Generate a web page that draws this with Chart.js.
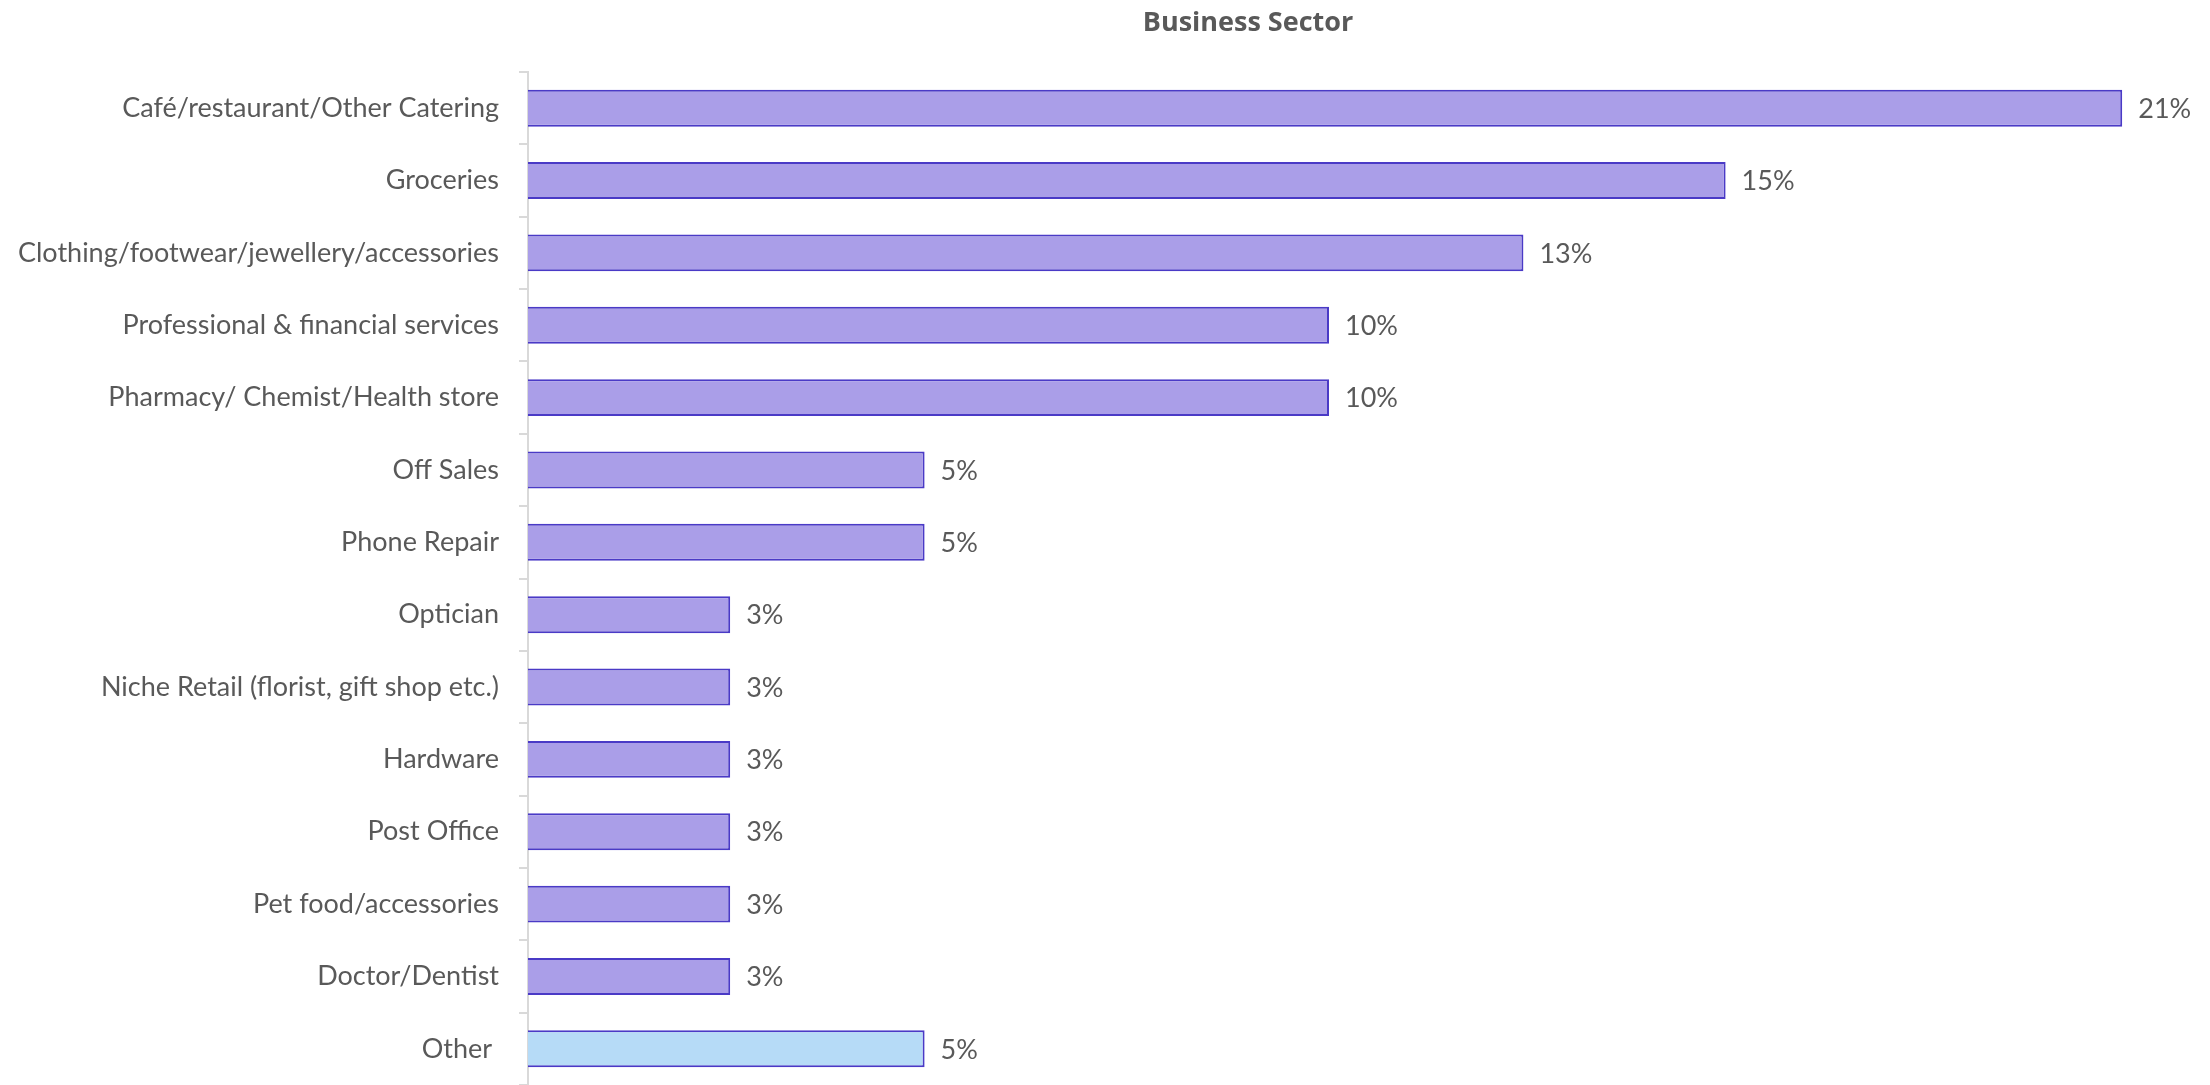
<!DOCTYPE html>
<html>
<head>
<meta charset="utf-8">
<script src="https://cdn.jsdelivr.net/npm/chart.js@4/dist/chart.umd.min.js"></script>
<style>
  html, body { margin: 0; padding: 0; background: #fff; }
  #sectorChart { display: block; }
</style>
</head>
<body>
<canvas id="sectorChart" width="2210" height="1085"></canvas>
<script>
const sectors = [
    'Café/restaurant/Other Catering',
    'Groceries',
    'Clothing/footwear/jewellery/accessories',
    'Professional & financial services',
    'Pharmacy/ Chemist/Health store',
    'Off Sales',
    'Phone Repair',
    'Optician',
    'Niche Retail (florist, gift shop etc.)',
    'Hardware',
    'Post Office',
    'Pet food/accessories',
    'Doctor/Dentist',
    'Other '
];

// share of respondents, %
const shares = [20.5, 15.4, 12.8, 10.3, 10.3, 5.1, 5.1, 2.6, 2.6, 2.6, 2.6, 2.6, 2.6, 5.1];

const TEXT_COLOR = '#595959';
const FONT = 'Lato, "Open Sans", sans-serif';

const barFill = sectors.map(s => s.trim() === 'Other' ? '#B6DBF7' : '#AA9EE8');

// chart heading, drawn over the plot
const headingPlugin = {
    id: 'heading',
    afterDraw(chart) {
        const c = chart.ctx;
        c.save();
        c.font = 'bold 27px "Open Sans", sans-serif';
        c.fillStyle = TEXT_COLOR;
        c.textAlign = 'center';
        c.textBaseline = 'alphabetic';
        c.fillText('Business Sector', 1248, 31);
        c.restore();
    }
};

// percentage labels at the end of each bar
const valueLabels = {
    id: 'valueLabels',
    afterDatasetsDraw(chart) {
        const c = chart.ctx;
        const meta = chart.getDatasetMeta(0);
        c.save();
        c.font = '27px ' + FONT;
        c.fillStyle = TEXT_COLOR;
        c.textAlign = 'left';
        c.textBaseline = 'middle';
        meta.data.forEach((bar, i) => {
            c.fillText(Math.round(shares[i]) + '%', bar.x + 16, bar.y + 1);
        });
        c.restore();
    }
};

new Chart(document.getElementById('sectorChart'), {
    type: 'bar',
    data: {
        labels: sectors,
        datasets: [{
            data: shares,
            backgroundColor: barFill,
            borderColor: '#4A3AC6',
            borderWidth: 2,
            barPercentage: 0.51,
            categoryPercentage: 1
        }]
    },
    options: {
        indexAxis: 'y',
        responsive: false,
        animation: false,
        layout: {
            padding: { top: 72, right: 10, bottom: 0, left: 0 }
        },
        scales: {
            x: {
                display: false,
                min: 0,
                max: 21.5
            },
            y: {
                afterFit(scale) {
                    scale.width = 528;
                    scale.paddingTop = 0;
                    scale.paddingBottom = 0;
                },
                grid: {
                    drawOnChartArea: false,
                    tickLength: 9,
                    color: '#D9D9D9',
                    lineWidth: 2
                },
                border: { color: '#D9D9D9', width: 2 },
                ticks: {
                    padding: 20,
                    color: TEXT_COLOR,
                    font: { family: FONT, size: 27 }
                }
            }
        },
        plugins: {
            legend: { display: false },
            tooltip: { enabled: false }
        }
    },
    plugins: [headingPlugin, valueLabels]
});
</script>
</body>
</html>
